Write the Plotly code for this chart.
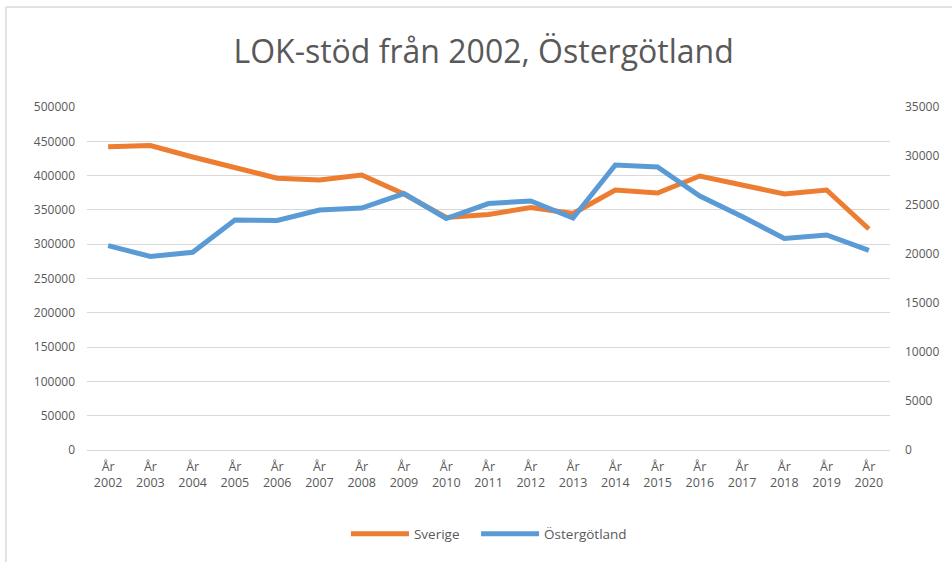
import plotly.graph_objects as go

years = [str(y) for y in range(2002, 2021)]
tick_labels = ["År<br>" + y for y in years]

sverige = [442100, 443900, 427100, 412500, 396100, 393600, 400900, 373200, 338900,
           343300, 353500, 344700, 379000, 374600, 399400, 386300, 373200, 379000, 322200]
ostergotland = [20850, 19750, 20170, 23470, 23420, 24490, 24690, 26170, 23620,
                25150, 25410, 23670, 29080, 28880, 25920, 23830, 21580, 21940, 20360]

left_ticks = list(range(0, 500001, 50000))
right_ticks = list(range(0, 35001, 5000))

FONT = "Open Sans"
GREY = "#595959"

fig = go.Figure()
fig.add_trace(go.Scatter(x=years, y=sverige, name="Sverige", mode="lines",
                         line=dict(color="#ED7D31", width=5), yaxis="y", legend="legend"))
fig.add_trace(go.Scatter(x=years, y=ostergotland, name="Östergötland", mode="lines",
                         line=dict(color="#5B9BD5", width=5), yaxis="y2", legend="legend2"))

legend_style = dict(orientation="h", xanchor="left", y=-0.245, yanchor="middle",
                    font=dict(size=13.5, color=GREY), itemwidth=58)

fig.update_layout(
    width=952, height=562,
    margin=dict(l=87, r=62, t=107, b=112),
    paper_bgcolor="white", plot_bgcolor="white",
    font=dict(family=FONT, color=GREY, size=12),
    title=dict(text="LOK-stöd från 2002, Östergötland", x=0.508, xref="container",
               xanchor="center", y=0.9075, yref="container", yanchor="middle",
               font=dict(family=FONT, size=32, color=GREY)),
    xaxis=dict(type="category", tickmode="array", tickvals=years, ticktext=tick_labels,
               range=[-0.5, 18.5], automargin=False,
               showgrid=False, showline=True, linecolor="#D9D9D9", linewidth=1,
               ticks="", ticklabelstandoff=5, tickfont=dict(size=12.5, color=GREY),
               fixedrange=True),
    yaxis=dict(range=[0, 500000], tickvals=left_ticks, ticktext=[str(v) for v in left_ticks],
               automargin=False, showgrid=True, gridcolor="#D9D9D9", gridwidth=1,
               zeroline=False, showline=False, ticks="", ticklabelstandoff=11,
               tickfont=dict(size=12, color=GREY)),
    yaxis2=dict(range=[0, 35000], tickvals=right_ticks, ticktext=[str(v) for v in right_ticks],
                automargin=False, overlaying="y", side="right", showgrid=False,
                zeroline=False, showline=False, ticks="", ticklabelstandoff=14,
                tickfont=dict(size=12, color=GREY)),
    legend=dict(x=0.3225, **legend_style),
    legend2=dict(x=0.4845, **legend_style),
    showlegend=True,
    shapes=[
        dict(type="line", xref="paper", yref="paper", x0=-0.1009, x1=1.2, y0=1.2915, y1=1.2915,
             line=dict(color="#D9D9D9", width=1.5)),
        dict(type="line", xref="paper", yref="paper", x0=-0.1009, x1=-0.1009, y0=1.2915, y1=-0.33,
             line=dict(color="#D9D9D9", width=1.5)),
    ],
)

fig.write_html("out.html", config={"displayModeBar": False},
               post_script="document.body.style.margin='0';")
